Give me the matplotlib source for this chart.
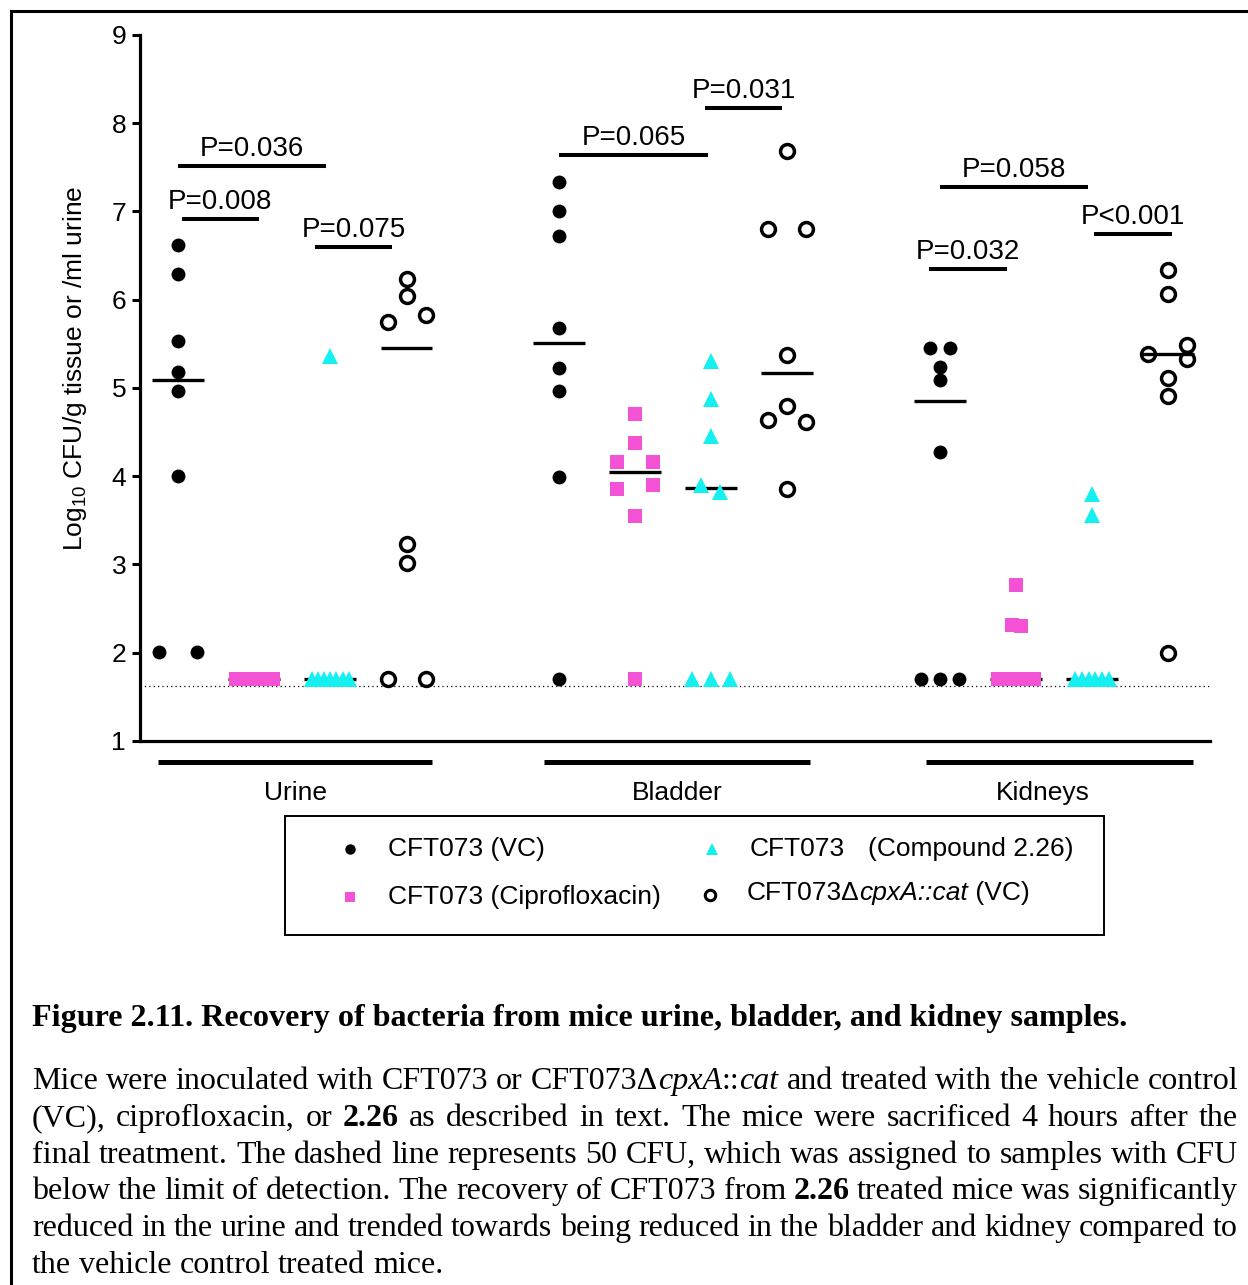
import numpy as np
import matplotlib.pyplot as plt
from matplotlib.lines import Line2D
from matplotlib.patches import Rectangle

plt.rcParams['font.family'] = ['Liberation Sans', 'DejaVu Sans']
plt.rcParams['mathtext.fontset'] = 'custom'
plt.rcParams['mathtext.rm'] = 'Liberation Sans'
plt.rcParams['mathtext.it'] = 'Liberation Sans:italic'

W, H = 1248, 1285

tissues = ['Urine', 'Bladder', 'Kidneys']
group_names = ['CFT073 (VC)', 'CFT073 (Ciprofloxacin)',
               'CFT073 (Compound 2.26)', 'CFT073ΔcpxA::cat (VC)']

# log10 CFU per mouse (1.70 = 50 CFU floor)
urine_vc = [6.62, 6.29, 5.53, 5.18, 4.97, 4.00, 2.01, 2.01]
urine_cipro = [1.70, 1.70, 1.70, 1.70, 1.70, 1.70, 1.70, 1.70]
urine_cmpd = [5.36, 1.70, 1.70, 1.70, 1.70, 1.70, 1.70, 1.70]
urine_mut = [6.23, 6.04, 5.83, 5.75, 3.23, 3.02, 1.70, 1.70]

bladder_vc = [7.33, 7.01, 6.72, 5.68, 5.23, 4.97, 3.99, 1.70]
bladder_cipro = [4.71, 4.38, 4.16, 4.16, 3.90, 3.85, 3.55, 1.70]
bladder_cmpd = [5.31, 4.87, 4.46, 3.90, 3.82, 1.70, 1.70, 1.70]
bladder_mut = [7.68, 6.80, 6.80, 5.37, 4.80, 4.64, 4.61, 3.85]

kidney_vc = [5.45, 5.45, 5.24, 5.09, 4.28, 1.70, 1.70, 1.70]
kidney_cipro = [2.77, 2.32, 2.30, 1.70, 1.70, 1.70, 1.70, 1.70]
kidney_cmpd = [3.80, 3.56, 1.70, 1.70, 1.70, 1.70, 1.70, 1.70]
kidney_mut = [6.34, 6.06, 5.49, 5.39, 5.33, 5.11, 4.91, 2.00]

# median bars
urine_med = [5.09, 1.70, 1.70, 5.45]
bladder_med = [5.51, 4.05, 3.87, 5.17]
kidney_med = [4.85, 1.70, 1.70, 5.38]

# horizontal scatter of the points inside each column (category units)
urine_dx = [[0, 0, 0, 0, 0, 0, -0.25, 0.25],
            [-0.24, -0.17, -0.10, -0.03, 0.03, 0.10, 0.17, 0.24],
            [0, -0.24, -0.16, -0.08, 0, 0.08, 0.16, 0.24],
            [0, 0, 0.25, -0.25, 0, 0, -0.25, 0.25]]
bladder_dx = [[0, 0, 0, 0, 0, 0, 0, 0],
              [0, 0, -0.24, 0.24, 0.24, -0.24, 0, 0],
              [0, 0, 0, -0.13, 0.12, -0.25, 0, 0.25],
              [0, -0.25, 0.25, 0, 0, -0.25, 0.25, 0]]
kidney_dx = [[-0.13, 0.13, 0, 0, 0, -0.25, 0, 0.25],
             [0, -0.05, 0.07, -0.24, -0.12, 0, 0.12, 0.24],
             [0, 0, -0.22, -0.13, -0.04, 0.04, 0.13, 0.22],
             [0, 0, 0.25, -0.26, 0.25, 0, 0, 0]]

values = [[urine_vc, urine_cipro, urine_cmpd, urine_mut],
          [bladder_vc, bladder_cipro, bladder_cmpd, bladder_mut],
          [kidney_vc, kidney_cipro, kidney_cmpd, kidney_mut]]
medians = [urine_med, bladder_med, kidney_med]
offsets = [urine_dx, bladder_dx, kidney_dx]

# significance bars
p_labels = ['P=0.036', 'P=0.008', 'P=0.075', 'P=0.065', 'P=0.031',
            'P=0.058', 'P<0.001', 'P=0.032']
p_x0 = [0.0, 0.05, 1.80, 5.0, 6.92, 10.0, 12.03, 9.86]
p_x1 = [1.94, 1.06, 2.81, 6.96, 7.93, 11.95, 13.05, 10.89]
p_y = [7.51, 6.915, 6.60, 7.64, 8.17, 7.28, 6.745, 6.35]

detection_limit = 1.62

pink = '#F452D4'
cyan = '#14F0F0'
styles = [dict(marker='o', ms=10, mfc='k', mec='k', mew=0, zorder=3),
          dict(marker='s', ms=9.5, mfc=pink, mec=pink, mew=0, zorder=3),
          dict(marker='^', ms=11, mfc=cyan, mec=cyan, mew=0, zorder=3),
          dict(marker='o', ms=10, mfc='white', mec='k', mew=2.5, zorder=2)]

fig = plt.figure(figsize=(W / 100, H / 100), dpi=100)
ax = fig.add_axes([140 / W, 1 - 741 / H, 1070 / W, 706 / H])

for ti in range(3):
    for gi in range(4):
        pos = ti * 5 + gi
        x = pos + np.array(offsets[ti][gi])
        ax.plot(x, values[ti][gi], linestyle='none', **styles[gi])
        m = medians[ti][gi]
        ax.plot([pos - 0.34, pos + 0.34], [m, m], color='k', lw=2.4,
                solid_capstyle='butt', zorder=2.5)

ax.axhline(detection_limit, color='k', lw=0.9, ls=(0, (1, 2.5)), zorder=1)

for lab, x0, x1, y in zip(p_labels, p_x0, p_x1, p_y):
    ax.plot([x0, x1], [y, y], color='k', lw=2.9, solid_capstyle='butt')
    ax.annotate(lab, xy=((x0 + x1) / 2, y), xytext=(0, 3),
                textcoords='offset points', ha='center', va='bottom',
                fontsize=20)

ax.set_xlim(-0.5, 13.55)
ax.set_ylim(1, 9)
ax.set_yticks(range(1, 10))
ax.tick_params(axis='y', labelsize=19, length=6, width=2.2, pad=4)
ax.set_xticks([])
for s in ['top', 'right']:
    ax.spines[s].set_visible(False)
for s in ['left', 'bottom']:
    ax.spines[s].set_linewidth(2.3)

# tissue group bars under the axis
tissue_x0 = [-0.26, 4.81, 9.82]
tissue_x1 = [3.34, 8.30, 13.33]
tissue_label_x = [1.54, 6.55, 11.36]
trans = ax.get_xaxis_transform()
for name, x0, x1, lx in zip(tissues, tissue_x0, tissue_x1, tissue_label_x):
    ax.plot([x0, x1], [-0.0297, -0.0297], color='k', lw=3.6, transform=trans,
            clip_on=False, solid_capstyle='butt')
    ax.text(lx, -0.0737, name, transform=trans, ha='center',
            va='center', fontsize=19)

fig.text(75 / W, 1 - 368 / H, 'Log$_{10}$ CFU/g tissue or /ml urine',
         rotation=90, ha='center', va='center', fontsize=19)

# outer frame (runs off right and bottom)
fig.add_artist(Line2D([11 / W, 1.0], [1 - 11 / H, 1 - 11 / H], color='k', lw=2.2))
fig.add_artist(Line2D([11 / W, 11 / W], [1 - 11 / H, 0], color='k', lw=2.2))

# legend box
fig.add_artist(Rectangle((285 / W, 1 - 935 / H), 819 / W, 119 / H, fill=False,
                         ec='k', lw=1.4, transform=fig.transFigure))
renderer = fig.canvas.get_renderer()


def fx(x):
    return x / W


def fy(y):
    return 1 - y / H


def draw_runs(x, y, runs, size, family, va='baseline'):
    # draw text pieces one after another, return end x in pixels
    for txt, st in runs:
        t = fig.text(fx(x), fy(y), txt, fontsize=size, family=family,
                     weight='bold' if st == 'b' else 'normal',
                     style='italic' if st == 'i' else 'normal',
                     ha='left', va=va)
        x += t.get_window_extent(renderer).width
    return x


leg_marker = [dict(marker='o', ms=7.5, mfc='k', mec='k', mew=0),
              dict(marker='s', ms=7.5, mfc=pink, mec=pink, mew=0),
              dict(marker='^', ms=8.5, mfc=cyan, mec=cyan, mew=0),
              dict(marker='o', ms=7.5, mfc='white', mec='k', mew=2.2)]
leg_pos = [(350, 849), (350, 897), (712, 849), (710, 895)]
for st, (mx, my) in zip(leg_marker, leg_pos):
    fig.add_artist(Line2D([fx(mx)], [fy(my)], linestyle='none', **st))

draw_runs(388, 849, [('CFT073 (VC)', 'n')], 19, 'Liberation Sans', va='center')
draw_runs(388, 897, [('CFT073 (Ciprofloxacin)', 'n')], 19, 'Liberation Sans', va='center')
draw_runs(750, 849, [('CFT073', 'n')], 19, 'Liberation Sans', va='center')
draw_runs(868, 849, [('(Compound 2.26)', 'n')], 19, 'Liberation Sans', va='center')
draw_runs(747, 893, [('CFT073Δ', 'n'), ('cpxA::cat', 'i'), (' (VC)', 'n')],
          19, 'Liberation Sans', va='center')

# caption
serif = 'Liberation Serif'
title_size = 23.1
cap_size = 23.0
draw_runs(32, 1026, [('Figure 2.11. Recovery of bacteria from mice urine, '
                      'bladder, and kidney samples.', 'b')], title_size, serif)

caption_lines = [
    [('Mice were inoculated with CFT073 or CFT073Δ', 'n'), ('cpxA', 'i'),
     ('::', 'n'), ('cat', 'i'), (' and treated with the vehicle control', 'n')],
    [('(VC), ciprofloxacin, or ', 'n'), ('2.26', 'b'),
     (' as described in text. The mice were sacrificed 4 hours after the', 'n')],
    [('final treatment. The dashed line represents 50 CFU, which was assigned '
      'to samples with CFU', 'n')],
    [('below the limit of detection. The recovery of CFT073 from ', 'n'),
     ('2.26', 'b'), (' treated mice was significantly', 'n')],
    [('reduced in the urine and trended towards being reduced in the bladder '
      'and kidney compared to', 'n')],
    [('the vehicle control treated mice.', 'n')],
]


def split_words(runs):
    words = [[]]
    for txt, st in runs:
        parts = txt.split(' ')
        for i, p in enumerate(parts):
            if i > 0:
                words.append([])
            if p:
                words[-1].append((p, st))
    return [w for w in words if w]


def text_w(s, st):
    t = fig.text(0, 0, s, fontsize=cap_size, family=serif,
                 weight='bold' if st == 'b' else 'normal',
                 style='italic' if st == 'i' else 'normal')
    w = t.get_window_extent(renderer).width
    t.remove()
    return w


space_w = text_w('a a', 'n') - text_w('aa', 'n')
left, right = 32, 1238
for k, runs in enumerate(caption_lines):
    y = 1089 + k * 36.8
    words = split_words(runs)
    widths = [sum(text_w(p, st) for p, st in w) for w in words]
    if k < len(caption_lines) - 1:
        gap = (right - left - sum(widths)) / (len(words) - 1)
    else:
        gap = space_w
    x = left
    for w, wd in zip(words, widths):
        draw_runs(x, y, w, cap_size, serif)
        x += wd + gap

fig.savefig('out.png', dpi=100)
